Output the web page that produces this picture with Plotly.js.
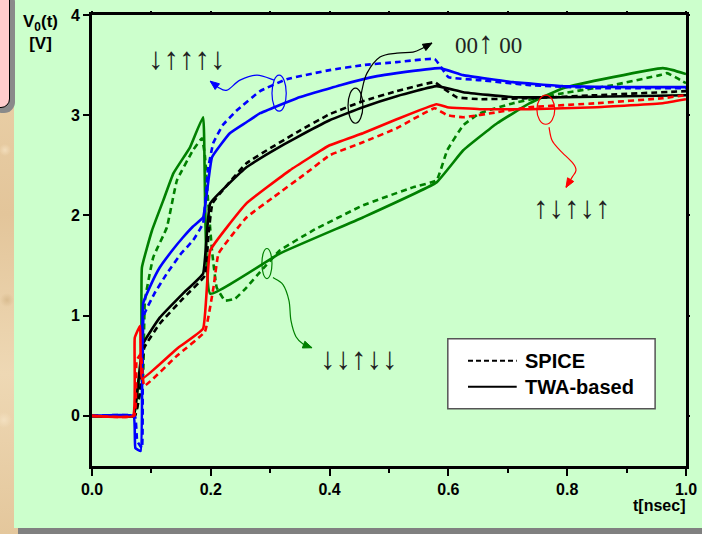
<!DOCTYPE html>
<html>
<head>
<meta charset="utf-8">
<script src="https://cdn.plot.ly/plotly-3.0.1.min.js"></script>
<style>
  html, body { margin: 0; padding: 0; width: 702px; height: 534px; overflow: hidden; }
  body { position: relative; background: #E8CDA2;
    background-image: radial-gradient(circle at 5px 150px, #F2DDBB 0, rgba(0,0,0,0) 6px),
      radial-gradient(circle at 7px 300px, #D9BC90 0, rgba(0,0,0,0) 7px),
      radial-gradient(circle at 4px 420px, #F3E0C0 0, rgba(0,0,0,0) 8px),
      linear-gradient(180deg, #EDD5AE 0%, #E3C59A 40%, #EED8B4 70%, #E4C79C 100%); }
  #panel { position: absolute; left: 14px; top: 0; width: 688px; height: 528px; background: #CCFFCC; }
  #bar { position: absolute; left: 18px; top: 528px; width: 684px; height: 6px; background: #808080; }
  #pink { position: absolute; left: -10px; top: -10px; width: 18px; height: 116px; background: #FFCCCC;
    border: 1px solid #000; border-radius: 9px; box-shadow: 3px 3px 0 2px #8A8A8A; }
  #chart { position: absolute; left: 0; top: 0; width: 702px; height: 534px; }
</style>
</head>
<body>
<div id="panel"></div>
<div id="bar"></div>
<div id="pink"></div>
<div id="chart"></div>
<script>
// ---------------- data (t in nsec, V in volts) ----------------
const blueTWA_t   = [0, 0.07, 0.073, 0.082, 0.086, 0.10, 0.114, 0.135, 0.153, 0.17, 0.187, 0.202, 0.232, 0.26, 0.283, 0.345, 0.418, 0.48, 0.513, 0.586, 0.625, 0.709, 0.793, 0.9, 1.0];
const blueTWA_v   = [0, 0, -0.32, -0.35, 1.12, 1.32, 1.48, 1.65, 1.78, 1.89, 1.98, 2.58, 2.82, 2.93, 3.02, 3.17, 3.30, 3.39, 3.42, 3.47, 3.40, 3.33, 3.29, 3.28, 3.28];
const blueSPICE_t = [0, 0.072, 0.076, 0.084, 0.087, 0.105, 0.126, 0.15, 0.17, 0.187, 0.195, 0.204, 0.22, 0.244, 0.283, 0.328, 0.4, 0.456, 0.513, 0.577, 0.6, 0.653, 0.737, 0.85, 1.0];
const blueSPICE_v = [0, 0, -0.25, -0.32, 1.0, 1.22, 1.42, 1.62, 1.75, 1.92, 2.45, 2.72, 2.90, 3.05, 3.24, 3.36, 3.45, 3.50, 3.53, 3.56, 3.38, 3.35, 3.30, 3.27, 3.27];

const blackTWA_t   = [0, 0.07, 0.078, 0.086, 0.114, 0.153, 0.187, 0.199, 0.26, 0.30, 0.345, 0.4, 0.456, 0.513, 0.58, 0.625, 0.709, 0.793, 0.9, 1.0];
const blackTWA_v   = [0, 0, 0.35, 0.72, 0.98, 1.22, 1.42, 2.12, 2.48, 2.63, 2.78, 2.95, 3.08, 3.19, 3.29, 3.23, 3.18, 3.18, 3.19, 3.20];
const blackSPICE_t = [0, 0.072, 0.08, 0.088, 0.114, 0.153, 0.19, 0.196, 0.203, 0.26, 0.345, 0.4, 0.456, 0.513, 0.577, 0.591, 0.614, 0.653, 0.737, 0.85, 1.0];
const blackSPICE_v = [0, 0, 0.2, 0.68, 0.92, 1.17, 1.40, 1.80, 2.12, 2.52, 2.83, 3.01, 3.14, 3.24, 3.33, 3.27, 3.18, 3.16, 3.17, 3.20, 3.24];

const redTWA_t   = [0, 0.069, 0.072, 0.081, 0.084, 0.143, 0.187, 0.199, 0.26, 0.333, 0.4, 0.456, 0.513, 0.58, 0.598, 0.653, 0.737, 0.85, 0.961, 1.0];
const redTWA_v   = [0, 0, 0.78, 0.90, 0.37, 0.67, 0.87, 1.65, 2.12, 2.45, 2.70, 2.82, 2.96, 3.11, 3.08, 3.06, 3.06, 3.08, 3.12, 3.16];
const redSPICE_t = [0, 0.071, 0.075, 0.082, 0.088, 0.143, 0.19, 0.205, 0.213, 0.26, 0.305, 0.36, 0.4, 0.456, 0.513, 0.577, 0.598, 0.625, 0.682, 0.737, 0.85, 0.961, 1.0];
const redSPICE_v = [0, 0, 0.55, 0.62, 0.30, 0.60, 0.84, 1.30, 1.62, 1.98, 2.18, 2.42, 2.60, 2.73, 2.87, 3.07, 3.00, 2.98, 3.03, 3.08, 3.12, 3.17, 3.20];

const greenTWA_t   = [0, 0.07, 0.075, 0.083, 0.084, 0.101, 0.12, 0.137, 0.165, 0.187, 0.199, 0.316, 0.456, 0.58, 0.625, 0.682, 0.737, 0.793, 0.877, 0.961, 0.978, 1.0];
const greenTWA_v   = [0, 0, 0.2, 0.5, 1.48, 1.85, 2.15, 2.42, 2.68, 2.98, 1.22, 1.62, 1.98, 2.33, 2.65, 2.92, 3.12, 3.27, 3.38, 3.47, 3.45, 3.41];
const greenSPICE_t = [0, 0.072, 0.078, 0.086, 0.089, 0.103, 0.126, 0.143, 0.17, 0.185, 0.19, 0.196, 0.202, 0.21, 0.224, 0.241, 0.26, 0.285, 0.316, 0.372, 0.456, 0.54, 0.58, 0.598, 0.625, 0.653, 0.709, 0.793, 0.877, 0.956, 0.968, 0.985, 1.0];
const greenSPICE_v = [0, 0, 0.15, 0.4, 1.15, 1.58, 1.88, 2.35, 2.65, 2.77, 2.6, 2.1, 1.65, 1.28, 1.15, 1.17, 1.28, 1.45, 1.65, 1.85, 2.10, 2.28, 2.35, 2.65, 2.90, 3.02, 3.12, 3.22, 3.30, 3.40, 3.42, 3.37, 3.32];

const xTickVals = [0, 0.2, 0.4, 0.6, 0.8, 1.0];
const xTickText = ['0.0', '0.2', '0.4', '0.6', '0.8', '1.0'];
const yTickVals = [0, 1, 2, 3, 4];
const yTickText = ['0', '1', '2', '3', '4'];
const legendNames = ['SPICE', 'TWA-based'];
const UP = '\u2191', DN = '\u2193';
const stateLabels = [[DN, UP, UP, UP, DN], ['00', UP, ' 00'], [UP, DN, UP, DN, UP], [DN, DN, UP, DN, DN]];

// ---------------- styles ----------------
const BLUE = '#0000FF', BLACK = '#000000', RED = '#FF0000', GREEN = '#008000';
const W = 2.6, DASH = '6px,4px';
function tr(t, v, color, dashed) {
  return { x: t, y: v, type: 'scatter', mode: 'lines', hoverinfo: 'skip', showlegend: false,
    line: { color: color, width: W, dash: dashed ? DASH : 'solid', shape: 'spline', smoothing: 0.3 } };
}
const traces = [
  tr(greenSPICE_t, greenSPICE_v, GREEN, true), tr(greenTWA_t, greenTWA_v, GREEN, false),
  tr(blackSPICE_t, blackSPICE_v, BLACK, true), tr(blackTWA_t, blackTWA_v, BLACK, false),
  tr(blueSPICE_t, blueSPICE_v, BLUE, true), tr(blueTWA_t, blueTWA_v, BLUE, false),
  tr(redSPICE_t, redSPICE_v, RED, true), tr(redTWA_t, redTWA_v, RED, false)
];

// smooth path through points (Catmull-Rom -> cubic Bezier), computed in pixel-scaled units
const SX = 594, SY = 100;
function smoothPath(pts) {
  const p = pts.map(q => [q[0] * SX, q[1] * SY]);
  let d = 'M ' + pts[0][0] + ',' + pts[0][1];
  for (let i = 0; i < p.length - 1; i++) {
    const p0 = p[i - 1] || p[i], p1 = p[i], p2 = p[i + 1], p3 = p[i + 2] || p[i + 1];
    const c1 = [p1[0] + (p2[0] - p0[0]) / 6, p1[1] + (p2[1] - p0[1]) / 6];
    const c2 = [p2[0] - (p3[0] - p1[0]) / 6, p2[1] - (p3[1] - p1[1]) / 6];
    d += ' C ' + (c1[0] / SX) + ',' + (c1[1] / SY) + ' ' + (c2[0] / SX) + ',' + (c2[1] / SY) + ' ' + (p2[0] / SX) + ',' + (p2[1] / SY);
  }
  return d;
}
function arrowHead(tip, prev) {
  const dx = (tip[0] - prev[0]) * SX, dy = (tip[1] - prev[1]) * SY;
  const len = Math.hypot(dx, dy) || 1, ux = dx / len, uy = dy / len, nx = -uy, ny = ux;
  const L = 9, H = 3.6;
  const bx = tip[0] * SX - ux * L, by = tip[1] * SY - uy * L;
  const a = [(bx + nx * H) / SX, (by + ny * H) / SY], b = [(bx - nx * H) / SX, (by - ny * H) / SY];
  return 'M ' + tip[0] + ',' + tip[1] + ' L ' + a[0] + ',' + a[1] + ' L ' + b[0] + ',' + b[1] + ' Z';
}
// callout pointers (data coordinates)
const callouts = [
  { color: BLUE,  loop: [0.303, 3.04, 0.327, 3.40],
    path: [[0.3064, 3.35], [0.2778, 3.40], [0.2492, 3.35], [0.2273, 3.25], [0.2121, 3.28], [0.1990, 3.34]] },
  { color: BLACK, loop: [0.431, 2.92, 0.456, 3.27],
    path: [[0.4512, 3.12], [0.4545, 3.25], [0.4630, 3.42], [0.4848, 3.58], [0.5135, 3.62], [0.5404, 3.63], [0.5572, 3.67], [0.5724, 3.72]] },
  { color: RED,   loop: [0.749, 2.91, 0.779, 3.20],
    path: [[0.7694, 2.88], [0.7744, 2.75], [0.7879, 2.65], [0.8098, 2.52], [0.8148, 2.45], [0.8081, 2.38], [0.7980, 2.28]] },
  { color: GREEN, loop: [0.286, 1.37, 0.303, 1.67],
    path: [[0.3047, 1.38], [0.3215, 1.31], [0.3316, 1.15], [0.3350, 0.95], [0.3434, 0.79], [0.3569, 0.71], [0.3704, 0.68]] }
];
const shapes = [];
const annotations = [];
callouts.forEach(c => {
  shapes.push({ type: 'circle', xref: 'x', yref: 'y', x0: c.loop[0], y0: c.loop[1], x1: c.loop[2], y1: c.loop[3],
    line: { color: c.color, width: 1.2 } });
  shapes.push({ type: 'path', xref: 'x', yref: 'y', path: smoothPath(c.path), line: { color: c.color, width: 1.2 } });
  const n = c.path.length;
  shapes.push({ type: 'path', xref: 'x', yref: 'y', path: arrowHead(c.path[n - 1], c.path[n - 2]),
    fillcolor: c.color, line: { color: c.color, width: 1 } });
});

// state labels (arrow glyphs larger than digits, as in the original)
const labelPos = [[0.16, 3.57], [0.667, 3.73], [0.808, 2.08], [0.45, 0.57]];
function labelHtml(parts) {
  return parts.map(s => (s === UP || s === DN) ? '<span style="font-size:31px">' + s + '</span>' : s).join('');
}
stateLabels.forEach((s, i) => annotations.push({ xref: 'x', yref: 'y', x: labelPos[i][0], y: labelPos[i][1],
  xanchor: 'center', yanchor: 'middle', text: labelHtml(s),
  showarrow: false, font: { family: 'Liberation Serif, Times New Roman, serif', size: 23, color: '#222' } }));

// legend box
shapes.push({ type: 'rect', xref: 'x', yref: 'y', x0: 0.599, x1: 0.948, y0: 0.07, y1: 0.77,
  fillcolor: '#FFFFFF', line: { color: '#555555', width: 1.5 }, layer: 'above' });
shapes.push({ type: 'line', xref: 'x', yref: 'y', x0: 0.633, x1: 0.715, y0: 0.55, y1: 0.55,
  line: { color: '#000', width: 2, dash: '5px,3px' } });
shapes.push({ type: 'line', xref: 'x', yref: 'y', x0: 0.633, x1: 0.715, y0: 0.29, y1: 0.29,
  line: { color: '#000', width: 2 } });
const BOLD = { family: 'Liberation Sans, Arial, sans-serif', weight: 'bold', color: '#000' };
annotations.push({ xref: 'x', yref: 'y', x: 0.726, y: 0.55, xanchor: 'left', yanchor: 'middle', text: legendNames[0],
  showarrow: false, font: Object.assign({ size: 20 }, BOLD) });
annotations.push({ xref: 'x', yref: 'y', x: 0.726, y: 0.29, xanchor: 'left', yanchor: 'middle', text: legendNames[1],
  showarrow: false, font: Object.assign({ size: 20 }, BOLD) });

// axis titles
annotations.push({ xref: 'paper', yref: 'paper', x: -0.0875, y: 1.01, xanchor: 'center', yanchor: 'top',
  text: '<b>V<sub>0</sub>(t)<br>[V]</b>', showarrow: false, font: Object.assign({ size: 17 }, BOLD) });
annotations.push({ xref: 'paper', yref: 'paper', x: 1.002, y: -0.087, xanchor: 'right', yanchor: 'middle',
  text: '<b>t[nsec]</b>', showarrow: false, font: Object.assign({ size: 16 }, BOLD) });

const layout = {
  width: 702, height: 534,
  margin: { l: 92, r: 16, t: 15, b: 68 },
  paper_bgcolor: 'rgba(0,0,0,0)', plot_bgcolor: '#CCFFCC',
  showlegend: false,
  xaxis: { range: [0, 1], tickvals: xTickVals, ticktext: xTickText, showgrid: false, zeroline: false,
    showline: true, linecolor: '#000', linewidth: 3, mirror: true, ticks: 'outside', ticklen: 7, tickwidth: 2,
    tickcolor: '#000', minor: { dtick: 0.1, tick0: 0, ticks: 'outside', ticklen: 4, tickwidth: 2, tickcolor: '#000' },
    tickfont: Object.assign({ size: 16 }, BOLD), fixedrange: true },
  yaxis: { range: [-0.5, 4], tickvals: yTickVals, ticktext: yTickText, showgrid: false, zeroline: false,
    showline: true, linecolor: '#000', linewidth: 3, mirror: true, ticks: 'outside', ticklen: 6, tickwidth: 2,
    tickcolor: '#000', tickfont: Object.assign({ size: 16 }, BOLD), fixedrange: true },
  xaxis2: { overlaying: 'x', side: 'top', range: [0, 1], dtick: 0.1, tick0: 0, ticks: 'outside', ticklen: 3,
    tickwidth: 2, tickcolor: '#000', showticklabels: false, showgrid: false, zeroline: false, showline: false },
  yaxis2: { overlaying: 'y', side: 'right', range: [-0.5, 4], dtick: 1, tick0: 0, ticks: 'outside', ticklen: 3,
    tickwidth: 2, tickcolor: '#000', showticklabels: false, showgrid: false, zeroline: false, showline: false },
  shapes: shapes,
  annotations: annotations
};
traces.push({ x: [null], y: [null], xaxis: 'x2', yaxis: 'y2', type: 'scatter', mode: 'lines', showlegend: false, hoverinfo: 'skip' });
Plotly.newPlot('chart', traces, layout, { staticPlot: true, displayModeBar: false });
</script>
</body>
</html>
